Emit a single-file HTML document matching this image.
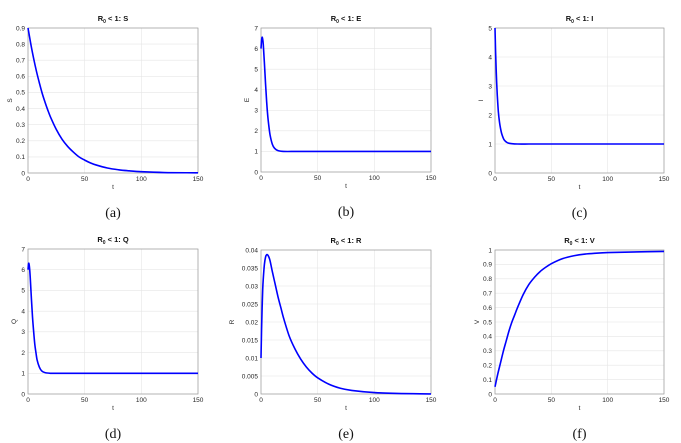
<!DOCTYPE html>
<html><head><meta charset="utf-8"><style>
html,body{margin:0;padding:0;background:#fff;}
svg{display:block;font-family:"Liberation Sans",sans-serif;}
.tick{font-size:6.5px;fill:#262626;}
.ttl{font-size:7.5px;font-weight:bold;fill:#111;}
.cap{font-family:"Liberation Serif",serif;font-size:14px;fill:#111;}
</style></head><body>
<svg id="fig" width="681" height="443" viewBox="0 0 681 443"></svg>
<script>
const tS=[0,2.5,5,7.5,10,12.5,15,17.5,20,25,30,35,40,45,50,55,60,70,80,90,100,120,150];
const vS=[0.9,0.8,0.71,0.63,0.56,0.495,0.44,0.39,0.345,0.27,0.21,0.165,0.13,0.1,0.08,0.063,0.05,0.031,0.02,0.013,0.008,0.003,0.001];
const tE=[0,0.5,1,1.5,2,3,4,5,6,7,8,10,12,15,20,30,150];
const vE=[6,6.4,6.55,6.45,6.2,5.3,4.3,3.4,2.7,2.2,1.8,1.35,1.15,1.04,1.0,1.0,1.0];
const tI=[0,0.5,1,1.5,2,3,4,5,6,8,10,12,15,20,30,150];
const vI=[5,4.2,3.6,3.1,2.7,2.1,1.75,1.52,1.35,1.15,1.07,1.03,1.01,1,1,1];
const tQ=[0,0.5,1,1.5,2,3,4,5,6,7,8,10,12,15,20,30,150];
const vQ=[6.0,6.3,6.25,6.0,5.6,4.6,3.7,3.0,2.4,2.0,1.65,1.3,1.12,1.03,1.0,1.0,1.0];
const tR=[0,0.5,1,1.5,2,3,4,5,6,7,8,10,12.5,15,17.5,20,25,30,35,40,45,50,60,70,80,100,120,150];
const vR=[0.01,0.018,0.024,0.029,0.032,0.036,0.038,0.0387,0.0386,0.038,0.037,0.034,0.0305,0.027,0.024,0.021,0.016,0.0125,0.0097,0.0075,0.0058,0.0045,0.0027,0.0016,0.001,0.0004,0.00015,0.00003];
const tV=[0,2.5,5,7.5,10,12.5,15,17.5,20,25,30,35,40,45,50,60,70,80,90,100,120,150];
const vV=[0.05,0.14,0.22,0.3,0.37,0.44,0.5,0.55,0.6,0.69,0.76,0.81,0.85,0.88,0.905,0.94,0.96,0.972,0.978,0.982,0.986,0.99];
const xTicks=[0,50,100,150];
const yTicksS=["0","0.1","0.2","0.3","0.4","0.5","0.6","0.7","0.8","0.9"];
const yTicksE=["0","1","2","3","4","5","6","7"];
const yTicksI=["0","1","2","3","4","5"];
const yTicksR=["0","0.005","0.01","0.015","0.02","0.025","0.03","0.035","0.04"];
const yTicksV=["0","0.1","0.2","0.3","0.4","0.5","0.6","0.7","0.8","0.9","1"];

const NS="http://www.w3.org/2000/svg";
const svg=document.getElementById('fig');
function mk(tag,attrs,parent){const e=document.createElementNS(NS,tag);for(const k in attrs)e.setAttribute(k,attrs[k]);(parent||svg).appendChild(e);return e;}

const panels=[
 {id:'s',x0:28,x1:198,y0:28,y1:173,t:tS,v:vS,yt:yTicksS,ymax:0.9,lab:'S',cap:'(a)'},
 {id:'e',x0:261,x1:431,y0:28,y1:172,t:tE,v:vE,yt:yTicksE,ymax:7,lab:'E',cap:'(b)'},
 {id:'i',x0:495,x1:664,y0:28,y1:173,t:tI,v:vI,yt:yTicksI,ymax:5,lab:'I',cap:'(c)'},
 {id:'q',x0:28,x1:198,y0:249,y1:394,t:tQ,v:vQ,yt:yTicksE,ymax:7,lab:'Q',cap:'(d)'},
 {id:'r',x0:261,x1:431,y0:250,y1:394,t:tR,v:vR,yt:yTicksR,ymax:0.04,lab:'R',cap:'(e)'},
 {id:'v',x0:495,x1:664,y0:250,y1:394,t:tV,v:vV,yt:yTicksV,ymax:1,lab:'V',cap:'(f)'}
];
panels.forEach(p=>{
 const g=mk('g',{});
 
 
 const xs=t=>p.x0+(t/150)*(p.x1-p.x0);
 const ys=v=>p.y1-(v/p.ymax)*(p.y1-p.y0);
 mk('rect',{x:p.x0,y:p.y0,width:p.x1-p.x0,height:p.y1-p.y0,fill:'#fff'},g);
 p.yt.forEach(s=>{const y=ys(parseFloat(s));
  mk('line',{x1:p.x0,x2:p.x1,y1:y,y2:y,stroke:'#e6e6e6','stroke-width':0.6},g);
  const tx=mk('text',{x:p.x0-3,y:y+2.3,'text-anchor':'end',class:'tick'},g);tx.textContent=s;});
 xTicks.forEach(t=>{const x=xs(t);
  mk('line',{x1:x,x2:x,y1:p.y0,y2:p.y1,stroke:'#e6e6e6','stroke-width':0.6},g);
  const tx=mk('text',{x:x,y:p.y1+8,'text-anchor':'middle',class:'tick'},g);tx.textContent=t;});
 mk('rect',{x:p.x0,y:p.y0,width:p.x1-p.x0,height:p.y1-p.y0,fill:'none',stroke:'#999','stroke-width':0.7},g);
 // smooth path through data points (tangents scaled to segment width to avoid loops)
 const P=p.t.map((t,i)=>[xs(t),ys(p.v[i])]);
 const slope=i=>{const a=P[Math.max(i-1,0)],b=P[Math.min(i+1,P.length-1)];return (b[1]-a[1])/(b[0]-a[0]||1);};
 let d='M'+P[0][0].toFixed(2)+','+P[0][1].toFixed(2);
 for(let i=0;i<P.length-1;i++){
  const p1=P[i],p2=P[i+1],h=(p2[0]-p1[0])/3;
  const lo=Math.min(p1[1],p2[1]),hi=Math.max(p1[1],p2[1]);
  let c1y=p1[1]+slope(i)*h,c2y=p2[1]-slope(i+1)*h;
  const isExt=k=>k>0&&k<P.length-1&&((P[k][1]-P[k-1][1])*(P[k+1][1]-P[k][1])<=0);
  if(!isExt(i))c1y=Math.min(Math.max(c1y,lo),hi);
  if(!isExt(i+1))c2y=Math.min(Math.max(c2y,lo),hi);
  d+='C'+(p1[0]+h).toFixed(2)+','+c1y.toFixed(2)+' '+(p2[0]-h).toFixed(2)+','+c2y.toFixed(2)+' '+p2[0].toFixed(2)+','+p2[1].toFixed(2);
 }
 const ln=mk('path',{d:d,fill:'none',stroke:'#0000ff','stroke-width':1.6,'stroke-linejoin':'round'},g);
 
 
 const xl=mk('text',{x:(p.x0+p.x1)/2,y:p.y1+16,'text-anchor':'middle',class:'tick'},g);xl.textContent='t';
 
 
 const yx=p.id==='r'?p.x0-27:(p.id==='v'||p.id==='s'?p.x0-16:p.x0-12);
 const yl=mk('text',{x:yx,y:(p.y0+p.y1)/2,'text-anchor':'middle',class:'tick',transform:'rotate(-90 '+yx+' '+(p.y0+p.y1)/2+')'},g);yl.textContent=p.lab;
 
 
 const ti=mk('text',{x:(p.x0+p.x1)/2,y:p.y0-7,'text-anchor':'middle',class:'ttl'},g);
 ti.innerHTML='R<tspan font-size="5" dy="2">0</tspan><tspan dy="-2"> &lt; 1: '+p.lab+'</tspan>';
 
 
 const cp=mk('text',{x:(p.x0+p.x1)/2,y:p.y1+44,'text-anchor':'middle',class:'cap'},g);cp.textContent=p.cap;
 
 
});
</script>
</body></html>
